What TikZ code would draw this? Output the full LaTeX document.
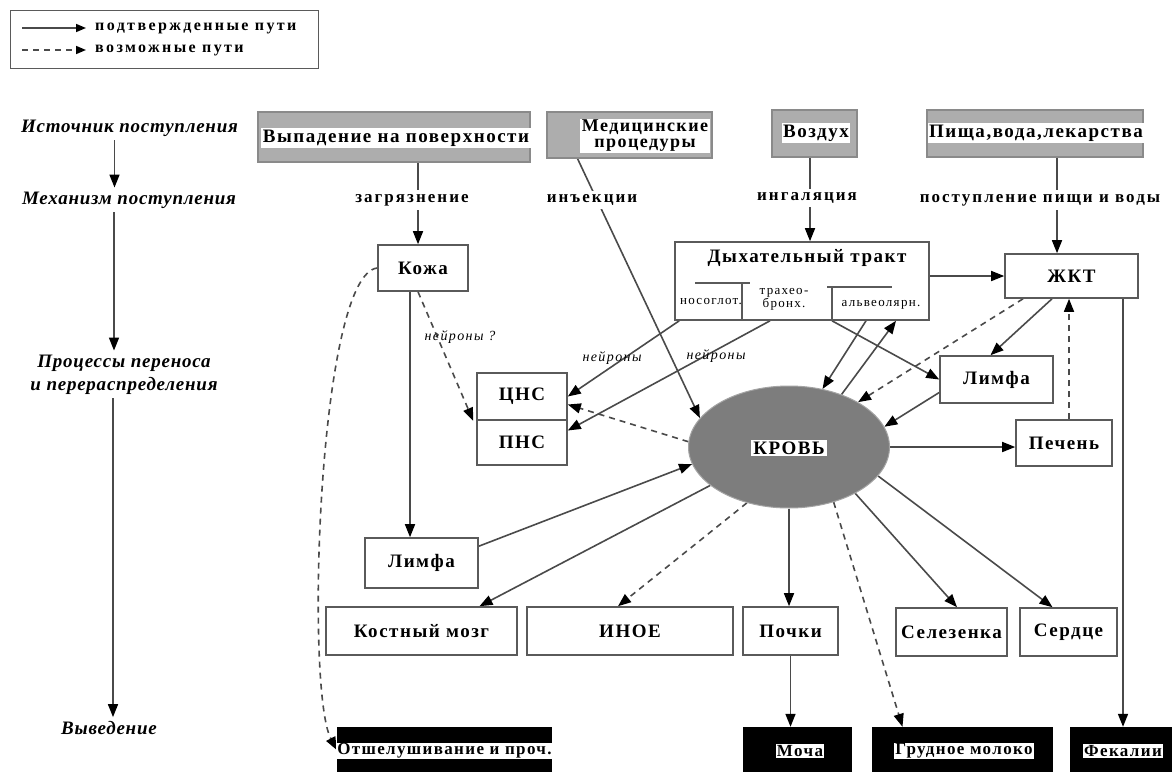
\documentclass[tikz,border=0pt]{standalone}
\usepackage{fontspec}
\setmainfont{Liberation Serif}
\newfontfamily\bxf[LetterSpace=8]{Liberation Serif}
\newfontfamily\mcf[LetterSpace=12]{Liberation Serif}
\newfontfamily\smf[LetterSpace=10]{Liberation Serif}
\newfontfamily\lvf[LetterSpace=4]{Liberation Serif}
\newfontfamily\lgf[LetterSpace=15]{Liberation Serif}
\usetikzlibrary{arrows.meta,backgrounds,calc,shapes.geometric}
\newcommand\fntBox{\bxf\bfseries\fontsize{19}{21}\selectfont}
\newcommand\fntTwo{\bxf\bfseries\fontsize{18}{16}\selectfont}
\newcommand\fntOut{\bxf\bfseries\fontsize{17}{19}\selectfont}
\newcommand\fntMech{\mcf\bfseries\fontsize{17}{19}\selectfont}
\newcommand\fntLev{\lvf\bfseries\itshape\fontsize{19}{23}\selectfont}
\newcommand\fntSmall{\smf\itshape\fontsize{14}{16}\selectfont}
\newcommand\fntSub{\smf\fontsize{13}{14}\selectfont}
\newcommand\fntLeg{\lgf\bfseries\fontsize{16}{18}\selectfont}
\definecolor{lc}{HTML}{4A4A4A}
\definecolor{bc}{HTML}{5A5A5A}
\definecolor{srcc}{HTML}{ADADAD}
\definecolor{srcb}{HTML}{8A8A8A}
\definecolor{krovc}{HTML}{7D7D7D}
\begin{document}
\begin{tikzpicture}[x=1pt,y=-1pt,
  box/.style={draw=bc, line width=1.6pt, fill=white, inner sep=0pt, font=\fntBox},
  src/.style={draw=srcb, fill=srcc, line width=1.2pt, inner sep=0pt},
  srct/.style={fill=white, inner sep=1.5pt, font=\fntBox},
  outbox/.style={fill=black, inner sep=0pt},
  outt/.style={fill=white, inner sep=1pt, font=\fntOut},
  mech/.style={fill=white, inner sep=4pt, font=\fntMech},
  lev/.style={font=\fntLev, inner sep=4pt, align=center},
  smalllab/.style={font=\fntSmall, inner sep=1pt},
  sublab/.style={font=\fntSub, inner sep=1pt, align=center},
  conn/.style={draw=lc, line width=1.6pt, -{Triangle[length=13pt,width=10pt,color=black]}},
  dconn/.style={conn, dash pattern=on 6pt off 5pt},
  legtip/.style={-{Triangle[length=10pt,width=8pt,color=black]}}
]
\useasboundingbox (0,0) rectangle (1172,771);
\begin{scope}[on background layer]
\fill[white] (0,0) rectangle (1172,771);
\end{scope}

% legend
\node[draw=bc, line width=1pt, minimum width=308, minimum height=58, inner sep=0pt] (leg) at (164,39) {};
\coordinate (la1) at (22,28); \coordinate (la2) at (86,28);
\coordinate (lb1) at (22,50); \coordinate (lb2) at (86,50);
\node[anchor=west, font=\fntLeg, inner sep=0pt] (legt1) at (95,28) {подтвержденные пути};
\node[anchor=west, font=\fntLeg, inner sep=0pt] (legt2) at (95,50) {возможные пути};

% left column
\node[lev] (lsrc) at (129.5,128) {Источник поступления};
\node[lev] (lmech) at (129,200) {Механизм поступления};
\node[lev] (lproc) at (124,374.5) {Процессы переноса\\и перераспределения};
\node[lev] (lvyv) at (109,728) {Выведение};

% sources
\node[src, minimum width=272, minimum height=50] (s1) at (394,137) {};
\node[srct] (s1t) at (396,138) {Выпадение на поверхности};
\node[src, minimum width=165, minimum height=46] (s2) at (629.5,135) {};
\node[srct, align=center, font=\fntTwo] (s2t) at (645,136) {Медицинские\\процедуры};
\node[src, minimum width=85, minimum height=47] (s3) at (814.5,133.5) {};
\node[srct] (s3t) at (816,133) {Воздух};
\node[src, minimum width=216, minimum height=47] (s4) at (1035,133.5) {};
\node[srct] (s4t) at (1036,133) {Пища,вода,лекарства};

% mechanisms
\node[mech] (m1) at (412,200) {загрязнение};
\node[mech] (m2) at (592,200) {инъекции};
\node[mech] (m3) at (807,198) {ингаляция};
\node[mech] (m4) at (1040,200) {поступление пищи и воды};

% organs
\node[box, minimum width=90, minimum height=46] (kozha) at (423,268) {Кожа};
\node[box, minimum width=90, minimum height=47] (cns) at (522,396.5) {ЦНС};
\node[box, minimum width=90, minimum height=45] (pns) at (522,442.5) {ПНС};
\node[box, minimum width=254, minimum height=78] (dyh) at (802,281) {};
\node[font=\fntBox, inner sep=0pt] (dyht) at (807,258) {Дыхательный тракт};
\draw[draw=bc, line width=1.4pt] (695,283) -- (750,283) (742,283) -- (742,320)
      (827,287) -- (892,287) (832,287) -- (832,320);
\node[sublab] (nos) at (711,302) {носоглот.};
\node[sublab, font=\smf\fontsize{13}{13}\selectfont] (trb) at (784,299) {трахео-\\бронх.};
\node[sublab] (alv) at (881,305) {альвеолярн.};
\node[box, minimum width=133, minimum height=44] (zhkt) at (1071.5,276) {ЖКТ};
\node[box, minimum width=113, minimum height=47] (limf2) at (996.5,379.5) {Лимфа};
\node[box, minimum width=96, minimum height=46] (pechen) at (1064,443) {Печень};
\node[ellipse, fill=krovc, draw=krovc!70!white, line width=1pt, minimum width=201, minimum height=122, inner sep=0pt] (krov) at (789,447) {};
\node[fill=white, font=\fntBox, inner sep=2pt] (krovt) at (789,448) {КРОВЬ};
\node[box, minimum width=113, minimum height=50] (limf1) at (421.5,563) {Лимфа};
\node[box, minimum width=191, minimum height=48] (kost) at (421.5,631) {Костный мозг};
\node[box, minimum width=206, minimum height=48] (inoe) at (630,631) {ИНОЕ};
\node[box, minimum width=95, minimum height=48] (pochki) at (790.5,631) {Почки};
\node[box, minimum width=111, minimum height=48] (selez) at (951.5,632) {Селезенка};
\node[box, minimum width=97, minimum height=48] (serdce) at (1068.5,632) {Сердце};

% outputs
\node[outbox, minimum width=215, minimum height=46] (otsh) at (444.5,750) {};
\node[outt] (otsht) at (444.5,751) {Отшелушивание и проч.};
\node[outbox, minimum width=109, minimum height=46] (mocha) at (797.5,750) {};
\node[outt] (mochat) at (800,751) {Моча};
\node[outbox, minimum width=181, minimum height=46] (grud) at (962.5,750) {};
\node[outt] (grudt) at (964,751) {Грудное молоко};
\node[outbox, minimum width=102, minimum height=46] (fek) at (1121,750) {};
\node[outt] (fekt) at (1123,751) {Фекалии};

% small labels
\node[smalllab] (nk) at (460,337) {нейроны ?};
\node[smalllab] (n1) at (612,358) {нейроны};
\node[smalllab] (n2) at (716,356) {нейроны};

\begin{scope}[on background layer]
% legend arrows
\draw[conn, legtip] (la1) -- (la2);
\draw[dconn, legtip] (lb1) -- (lb2);
% left column
\draw[conn] ([xshift=-15]lsrc.south) -- ([xshift=-15]lsrc.south |- lmech.north);
\draw[conn] ([xshift=-15]lmech.south) -- ([xshift=-15]lmech.south |- lproc.north);
\draw[conn] ([xshift=-11]lproc.south) -- ([xshift=-11]lproc.south |- lvyv.north);
% sources
\draw[conn] ([xshift=24]s1.south) -- ([xshift=24]s1.south |- kozha.north);
\draw[conn] ([xshift=-52]s2.south) -- (krov.162);
\draw[conn] ([xshift=-4.5]s3.south) -- ([xshift=-4.5]s3.south |- dyh.north);
\draw[conn] ([xshift=22]s4.south) -- ([xshift=22]s4.south |- zhkt.north);
% skin
\draw[conn] ([xshift=-13]kozha.south) -- ([xshift=-13]kozha.south |- limf1.north);
\draw[dconn] ([xshift=-5]kozha.south) -- ([xshift=-3]cns.south west);
\draw[dconn] (kozha.west) .. controls (318,275) and (305,690) .. (otsh.west);
% respiratory tract
\draw[conn] ([xshift=5]dyh.south west) -- (cns.east);
\draw[conn] ([xshift=-32]dyh.south) -- ([yshift=12]pns.east);
\draw[conn] ([xshift=30]dyh.south) -- (limf2.west);
\draw[conn] ([xshift=64]dyh.south) -- (krov.60);
\draw[conn] (krov.45) -- ([xshift=94]dyh.south);
\draw[conn] (dyh.east |- zhkt.west) -- (zhkt.west);
% GI tract
\draw[conn] ([xshift=-19.5]zhkt.south) -- ([xshift=-6]limf2.north);
\draw[dconn] ([xshift=-48.5]zhkt.south) -- (krov.33);
\draw[dconn] ([xshift=5]pechen.north) -- ([xshift=5]pechen.north |- zhkt.south);
\draw[conn] ([xshift=51.5]zhkt.south) -- ([xshift=51.5]zhkt.south |- fek.north);
\draw[conn] ([yshift=-13]limf2.west) -- (krov.12);
\draw[conn] (krov.east) -- (krov.east -| pechen.west);
% blood
\draw[dconn] (krov.177) -- ([yshift=-8]cns.east);
\draw[conn] ([yshift=-9]limf1.north east) -- (krov.190);
\draw[conn] (krov.206) -- ([xshift=58]kost.north);
\draw[dconn] (krov.233) -- ([xshift=-12]inoe.north);
\draw[conn] (krov.south) -- (krov.south |- pochki.north);
\draw[dconn] (krov.309) -- ([xshift=-60]grud.north);
\draw[conn] (krov.325) -- ([xshift=5.5]selez.north);
\draw[conn] (krov.342) -- ([xshift=-16]serdce.north);
\draw[conn] (pochki.south) -- (pochki.south |- mocha.north);
\end{scope}
\end{tikzpicture}
\end{document}
